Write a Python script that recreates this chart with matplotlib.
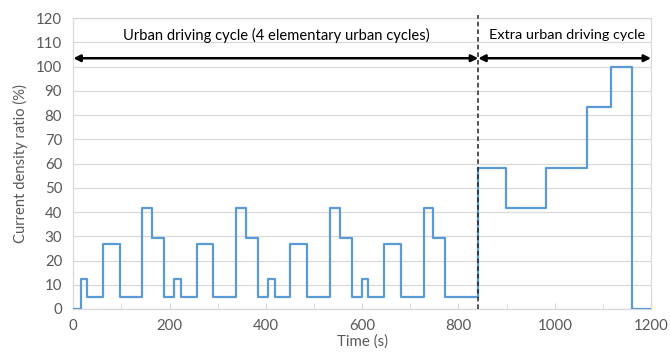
import matplotlib
matplotlib.use("Agg")
import matplotlib.pyplot as plt
from matplotlib.ticker import MultipleLocator

plt.rcParams['font.family'] = ['Lato', 'DejaVu Sans']

# step start times (s) and current density ratio (%) held from each time on
times = [0, 15, 28, 61, 96, 143, 163, 188,
         210, 223, 256, 291, 338, 358, 383,
         405, 418, 451, 486, 533, 553, 578,
         600, 613, 646, 681, 728, 748, 773,
         841, 899, 981, 1066, 1116, 1160]
ratio = [0, 12.5, 5, 26.7, 5, 41.7, 29.2, 5,
         12.5, 5, 26.7, 5, 41.7, 29.2, 5,
         12.5, 5, 26.7, 5, 41.7, 29.2, 5,
         12.5, 5, 26.7, 5, 41.7, 29.2, 5,
         58.3, 41.7, 58.3, 83.3, 100, 0]
t_end = 1200
t_split = 841
arrow_y = 103.5
text_y = 113
urban_label = "Urban driving cycle (4 elementary urban cycles)"
extra_label = "Extra urban driving cycle"

grey = "#d9d9d9"
txt = "#595959"

fig = plt.figure(figsize=(6.71, 3.58), dpi=100)
ax = fig.add_axes([0.1093, 0.137, 0.861, 0.812])

ax.step(times + [t_end], ratio + [ratio[-1]], where='post',
        color="#5b9bd5", lw=1.6, zorder=3)

ax.set_xlim(0, t_end)
ax.set_ylim(0, 120)
ax.yaxis.set_major_locator(MultipleLocator(10))
ax.xaxis.set_major_locator(MultipleLocator(200))
ax.xaxis.set_minor_locator(MultipleLocator(100))
ax.grid(axis='y', color=grey, lw=0.9, zorder=0)
for s in ax.spines.values():
    s.set_color(grey)
    s.set_linewidth(0.9)
ax.tick_params(axis='y', length=0, labelsize=10.8, labelcolor=txt, pad=8)
ax.tick_params(axis='x', which='both', direction='in', length=4, color=grey,
               labelsize=10.8, labelcolor=txt, pad=7)

ax.set_xlabel("Time (s)", fontsize=10.8, color=txt, labelpad=1)
ax.set_ylabel("Current density ratio (%)", fontsize=10.6, color=txt, labelpad=6)

# boundary between the two parts of the cycle
ax.plot([t_split, t_split], [0, 121.5], ls=(0, (3, 2)), color="#222222",
        lw=1.1, clip_on=False, zorder=4)

arrow = dict(arrowstyle='<|-|>', color='black', lw=1.8,
             mutation_scale=10, shrinkA=0, shrinkB=0)
ax.annotate("", xy=(0, arrow_y), xytext=(t_split, arrow_y), arrowprops=arrow,
            annotation_clip=False, zorder=5)
ax.annotate("", xy=(t_split, arrow_y), xytext=(t_end, arrow_y), arrowprops=arrow,
            annotation_clip=False, zorder=5)

ax.text(t_split / 2 + 2, text_y, urban_label, ha='center', va='center',
        fontsize=10.6, color='black')
ax.text((t_split + t_end) / 2 + 5, text_y, extra_label, ha='center', va='center',
        fontsize=10.4, color='black')

fig.savefig("out.png", dpi=100)
